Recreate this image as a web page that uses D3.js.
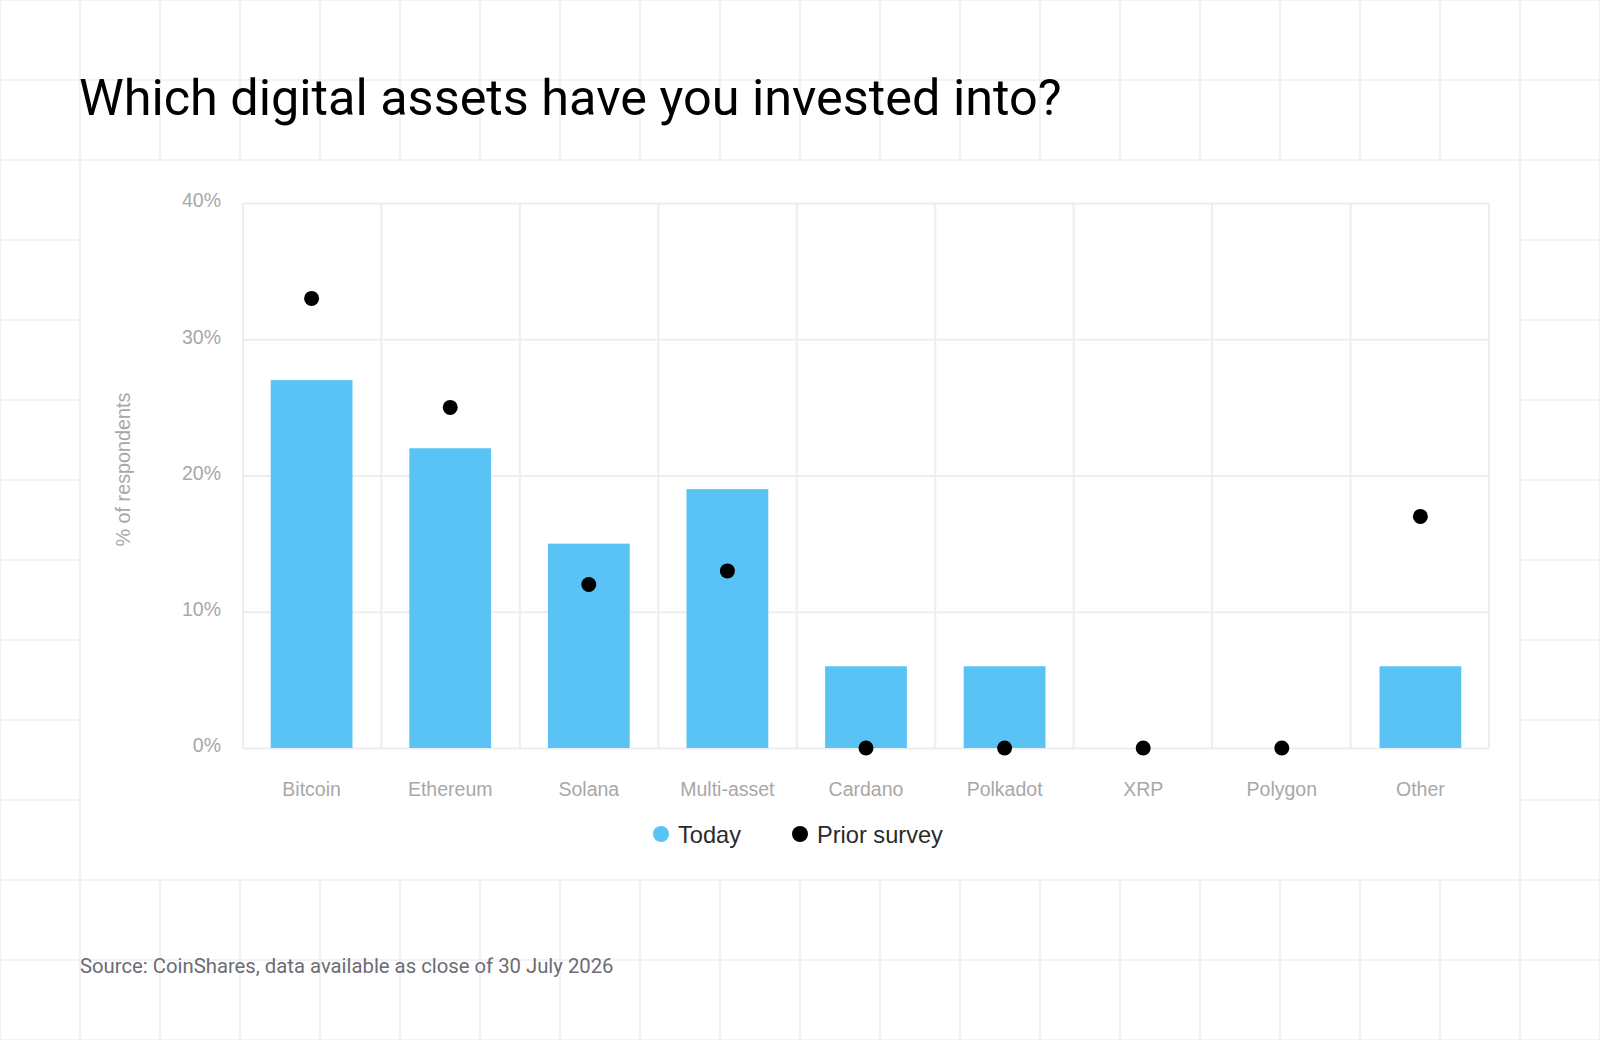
<!DOCTYPE html>
<html>
<head>
<meta charset="utf-8">
<script src="https://cdn.jsdelivr.net/npm/d3@7"></script>
<style>
  html, body { margin: 0; padding: 0; background: #fff; }
  svg { display: block; }
</style>
</head>
<body>
<svg id="chart" width="1600" height="1040"></svg>
<script>
// ---- data ----
const categories = ["Bitcoin", "Ethereum", "Solana", "Multi-asset", "Cardano", "Polkadot", "XRP", "Polygon", "Other"];
const todayValues = [27, 22, 15, 19, 6, 6, 0, 0, 6];
const priorValues = [33, 25, 12, 13, 0, 0, 0, 0, 17];
const yTicks = [0, 10, 20, 30, 40];
const seriesNames = ["Today", "Prior survey"];
const titleText = "Which digital assets have you invested into?";
const sourceText = "Source: CoinShares, data available as close of 30 July 2026";
const yAxisTitle = "% of respondents";

// ---- layout ----
const W = 1600, H = 1040;
const plot = { left: 243, right: 1489, top: 203, bottom: 748 };
const barColor = "#5ac3f6";
const dotColor = "#000000";
const gridColor = "#eeeeee";
const bgGridColor = "#f2f2f2";

const svg = d3.select("#chart");

// background grid
const bg = svg.append("g");
bg.append("rect").attr("width", W).attr("height", H).attr("fill", "#fff");
const bgX = d3.range(0, W + 1, 80);
const bgY = d3.range(0, H + 1, 80);
bg.selectAll("line.v").data(bgX).join("line")
  .attr("x1", d => d).attr("x2", d => d).attr("y1", 0).attr("y2", H)
  .attr("stroke", bgGridColor).attr("stroke-width", 2);
bg.selectAll("line.h").data(bgY).join("line")
  .attr("x1", 0).attr("x2", W).attr("y1", d => d).attr("y2", d => d)
  .attr("stroke", bgGridColor).attr("stroke-width", 2);

// white chart panel
svg.append("rect").attr("x", 81).attr("y", 161).attr("width", 1438).attr("height", 718).attr("fill", "#fff");

// title
svg.append("text")
  .attr("x", 79).attr("y", 115)
  .attr("font-family", "Roboto, 'Liberation Sans', sans-serif")
  .attr("font-size", 50.4)
  .attr("fill", "#000")
  .text(titleText);

// source
svg.append("text")
  .attr("x", 80).attr("y", 973)
  .attr("font-family", "Roboto, 'Liberation Sans', sans-serif")
  .attr("font-size", 20.3)
  .attr("fill", "#6c6c76")
  .text(sourceText);

// scales
const x = d3.scaleBand().domain(categories).range([plot.left, plot.right]).paddingInner(0.41).paddingOuter(0.2);
const y = d3.scaleLinear().domain([0, 40]).range([plot.bottom, plot.top]);

const g = svg.append("g");

// horizontal gridlines
g.append("g")
  .attr("transform", `translate(${plot.left},0)`)
  .call(d3.axisLeft(y).tickValues(yTicks).tickSize(-(plot.right - plot.left)).tickFormat(""))
  .call(s => s.select(".domain").remove())
  .call(s => s.selectAll("line").attr("stroke", gridColor).attr("stroke-width", 2));

// vertical gridlines at band boundaries
const step = (plot.right - plot.left) / categories.length;
const boundaries = d3.range(categories.length + 1).map(i => plot.left + i * step);
g.append("g").selectAll("line").data(boundaries).join("line")
  .attr("x1", d => d).attr("x2", d => d).attr("y1", plot.top).attr("y2", plot.bottom)
  .attr("stroke", gridColor).attr("stroke-width", 2);

// y axis labels
g.append("g")
  .attr("transform", `translate(${plot.left},0)`)
  .call(d3.axisLeft(y).tickValues(yTicks).tickSize(0).tickPadding(22).tickFormat(d => d + "%"))
  .call(s => s.select(".domain").remove())
  .call(s => s.selectAll("text")
    .attr("font-family", "'Liberation Sans', Arial, sans-serif")
    .attr("font-size", 19.5)
    .attr("fill", "#a8a8a8")
    .attr("dy", "0.2em"));

// x axis labels
g.append("g")
  .attr("transform", `translate(0,${plot.bottom})`)
  .call(d3.axisBottom(x).tickSize(0).tickPadding(34))
  .call(s => s.select(".domain").remove())
  .call(s => s.selectAll("text")
    .attr("font-family", "'Liberation Sans', Arial, sans-serif")
    .attr("font-size", 19.5)
    .attr("fill", "#a8a8a8"));

// y axis title
svg.append("text")
  .attr("transform", `translate(130,${(plot.top + plot.bottom) / 2 - 6}) rotate(-90)`)
  .attr("text-anchor", "middle")
  .attr("font-family", "'Liberation Sans', Arial, sans-serif")
  .attr("font-size", 19.8)
  .attr("fill", "#a8a8a8")
  .text(yAxisTitle);

// bars
g.append("g").selectAll("rect").data(categories).join("rect")
  .attr("x", d => x(d))
  .attr("width", x.bandwidth())
  .attr("y", (d, i) => y(todayValues[i]))
  .attr("height", (d, i) => y(0) - y(todayValues[i]))
  .attr("fill", barColor);

// prior survey dots
g.append("g").selectAll("circle").data(categories).join("circle")
  .attr("cx", d => x(d) + x.bandwidth() / 2)
  .attr("cy", (d, i) => y(priorValues[i]))
  .attr("r", 7.5)
  .attr("fill", dotColor);

// legend
const legendColors = [barColor, dotColor];
const legendX = [661, 800];
const legend = svg.append("g");
const li = legend.selectAll("g").data(seriesNames).join("g")
  .attr("transform", (d, i) => `translate(${legendX[i]},834)`);
li.append("circle").attr("r", 8).attr("fill", (d, i) => legendColors[i]);
li.append("text")
  .attr("x", 17).attr("dy", "0.36em")
  .attr("font-family", "'Liberation Sans', Arial, sans-serif")
  .attr("font-size", 23.6)
  .attr("fill", "#2b2b2b")
  .text(d => d);
</script>
</body>
</html>
